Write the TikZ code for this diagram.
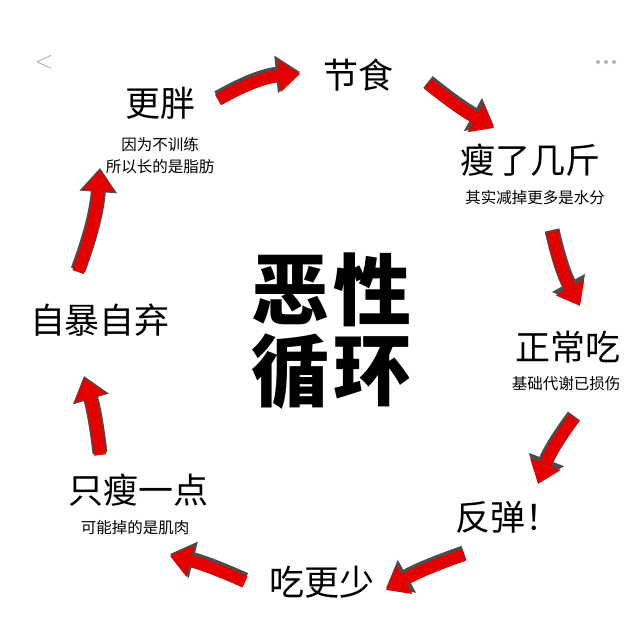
\documentclass[tikz,border=0pt]{standalone}
\usepackage{fontspec}
\newfontfamily\cjk{Noto Sans CJK SC}
\usetikzlibrary{arrows.meta}
\begin{document}
\begin{tikzpicture}[x=1pt,y=-1pt,
  big/.style={font=\cjk\fontsize{35}{37}\selectfont,inner sep=0},
  small/.style={font=\cjk\fontsize{15.5}{17}\selectfont,inner sep=0},
  huge/.style={font=\cjk\bfseries\fontsize{78}{80}\selectfont,inner sep=0},
  arrdark/.style={draw=black!70,line width=15pt,-{Triangle[length=24pt,width=36pt]}},
  arr/.style={draw=red!90!black,line width=12pt,-{Triangle[length=21pt,width=31pt]}}]
\fill[white] (0,0) rectangle (640,624);
\useasboundingbox (0,0) rectangle (640,624);
\node[text=black!35,font=\fontsize{26}{26}\selectfont] (back) at (44,62) {$<$};
\foreach \i in {0,1,2}{\fill[black!30] (598+\i*8,62) circle (2);}
\node[big] (a) at (160,103) {更胖};
\node[small] (a1) at (160,145) {因为不训练};
\node[small] (a2) at (160,167) {所以长的是脂肪};
\node[big] (b) at (358,75) {节食};
\node[big] (c) at (530,160) {瘦了几斤};
\node[small] (c1) at (535,198) {其实减掉更多是水分};
\node[big] (d) at (568,347) {正常吃};
\node[small] (d1) at (566,384) {基础代谢已损伤};
\node[big] (e) at (508,517) {反弹！};
\node[big] (f) at (322,582) {吃更少};
\node[big] (g) at (138,490) {只瘦一点};
\node[small] (g1) at (135,528) {可能掉的是肌肉};
\node[big] (h) at (100,320) {自暴自弃};
\node[huge] (m1) at (290,290) {恶};
\node[huge] (m2) at (372,290) {性};
\node[huge] (m3) at (290,372) {循};
\node[huge] (m4) at (372,372) {环};
\coordinate (t1) at (218,100); \coordinate (h1) at (300,74);
\coordinate (t2) at (428,84);  \coordinate (h2) at (494,128);
\coordinate (t3) at (552,232); \coordinate (h3) at (580,306);
\coordinate (t4) at (574,418); \coordinate (h4) at (538,484);
\coordinate (t5) at (464,555); \coordinate (h5) at (386,590);
\coordinate (t6) at (245,582); \coordinate (h6) at (170,556);
\coordinate (t7) at (100,455); \coordinate (h7) at (84,378);
\coordinate (t8) at (78,272);  \coordinate (h8) at (100,170);
\foreach \i/\b in {1/12,2/-5,3/-8,4/-8,5/-5,6/-5,7/-5,8/-8}{
  \draw[arrdark] ([yshift=2pt]t\i) to[bend left=\b] ([yshift=2pt]h\i);
  \draw[arr] (t\i) to[bend left=\b] (h\i);
}
\end{tikzpicture}
\end{document}
